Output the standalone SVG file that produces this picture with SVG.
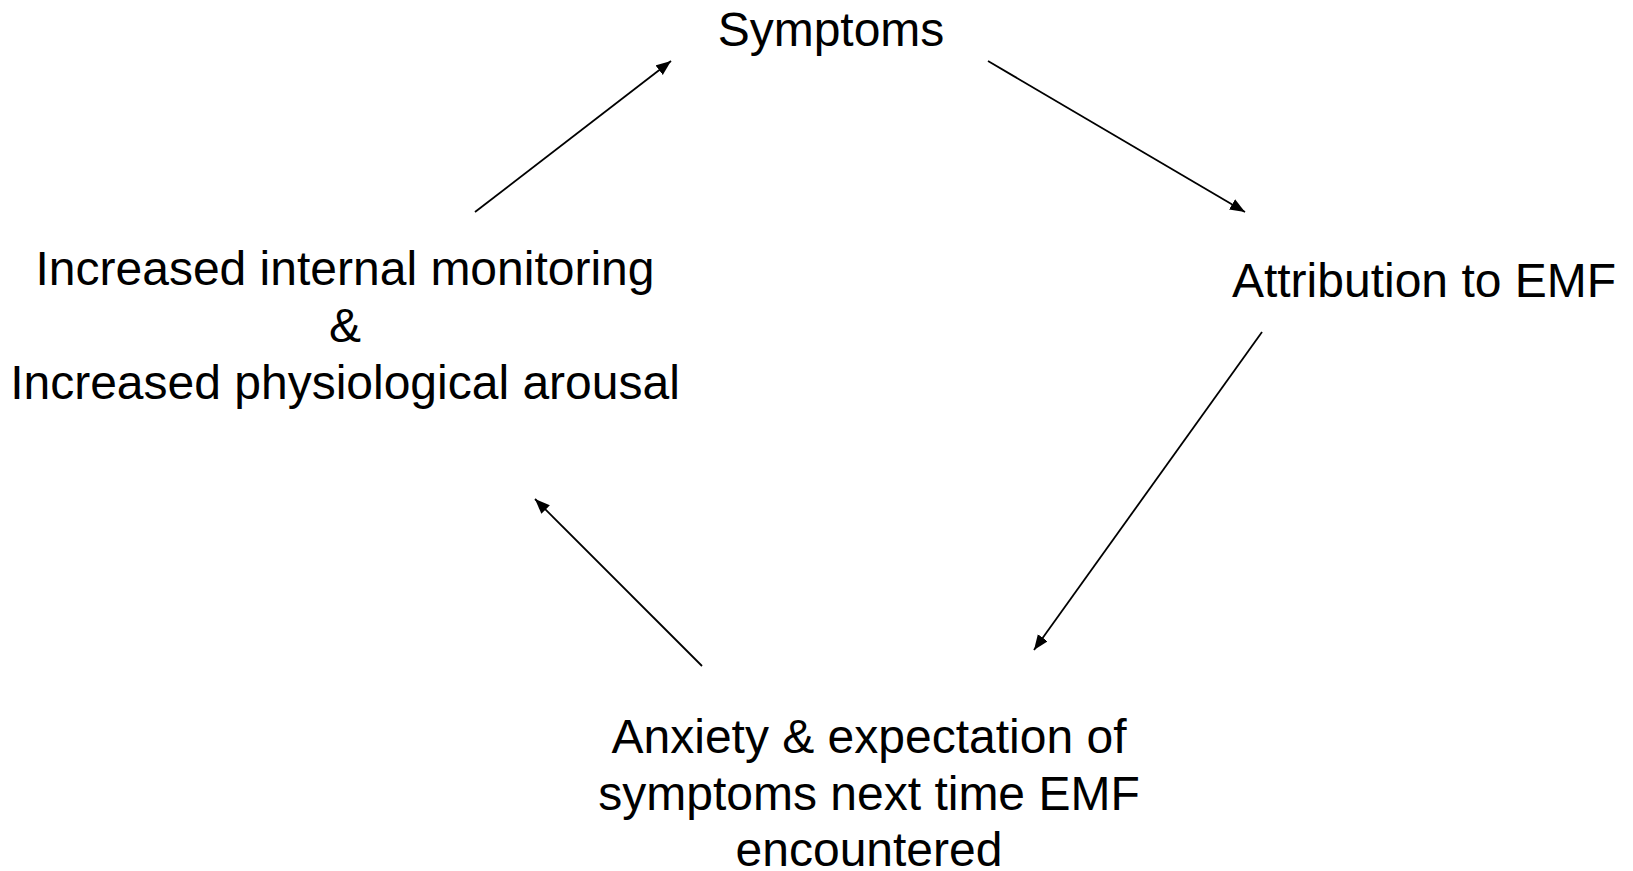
<svg xmlns="http://www.w3.org/2000/svg" width="1633" height="871" viewBox="0 0 1633 871">
<style>
text{font-family:"Liberation Sans",Arial,sans-serif;font-size:48px;fill:#000;text-anchor:middle}
.c{stroke:#000;stroke-width:1.8;fill:none}
</style>
<defs>
<marker id="ah" markerUnits="userSpaceOnUse" markerWidth="16" markerHeight="13" refX="15" refY="6" orient="auto"><path d="M0,0 L15,6 L0,12 z" fill="#000"/></marker>
</defs>
<rect width="1633" height="871" fill="#fff"/>
<g id="connectors">
<line class="c" x1="475" y1="212" x2="671" y2="61" marker-end="url(#ah)"/>
<line class="c" x1="988" y1="61" x2="1245" y2="212" marker-end="url(#ah)"/>
<line class="c" x1="1262" y1="332" x2="1034" y2="650" marker-end="url(#ah)"/>
<line class="c" x1="702" y1="666" x2="535" y2="499" marker-end="url(#ah)"/>
</g>
<g id="symptoms"><text x="831" y="46">Symptoms</text></g>
<g id="attribution"><text x="1424" y="297">Attribution to EMF</text></g>
<g id="monitoring"><text x="345" y="285">Increased internal monitoring</text><text x="345" y="342">&amp;</text><text x="345" y="399">Increased physiological arousal</text></g>
<g id="anxiety"><text x="869" y="753">Anxiety &amp; expectation of</text><text x="869" y="810">symptoms next time EMF</text><text x="869" y="866">encountered</text></g>
</svg>
